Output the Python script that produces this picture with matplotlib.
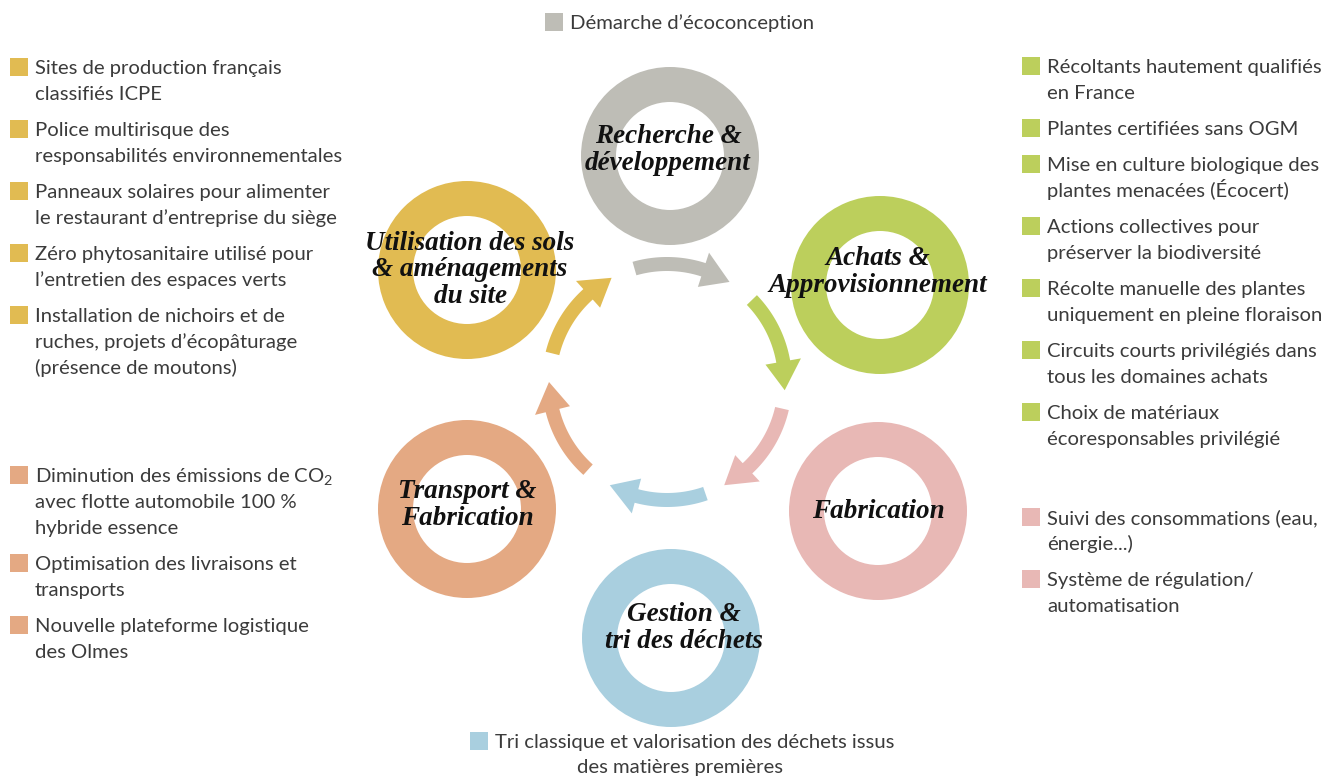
import numpy as np
import matplotlib
matplotlib.use("Agg")
import matplotlib.pyplot as plt
from matplotlib.patches import Wedge, Polygon, Rectangle

plt.rcParams['mathtext.fontset'] = 'custom'
plt.rcParams['mathtext.rm'] = 'Lato'
plt.rcParams['mathtext.it'] = 'Lato:italic'

# ---- content ----
stages = ["Recherche &\ndéveloppement", "Achats &\nApprovisionnement", "Fabrication",
          "Gestion &\ntri des déchets", "Transport &\nFabrication",
          "Utilisation des sols\n& aménagements\ndu site"]
stage_colors = ["#bebdb6", "#bccf5c", "#e8b8b5", "#a9cfdf", "#e4a983", "#e1bb52"]

yellow_items = ["Sites de production français\nclassifiés ICPE",
                "Police multirisque des\nresponsabilités environnementales",
                "Panneaux solaires pour alimenter\nle restaurant d’entreprise du siège",
                "Zéro phytosanitaire utilisé pour\nl’entretien des espaces verts",
                "Installation de nichoirs et de\nruches, projets d’écopâturage\n(présence de moutons)"]
orange_items = ["Diminution des émissions de CO$_2$\navec flotte automobile 100 %\nhybride essence",
                "Optimisation des livraisons et\ntransports",
                "Nouvelle plateforme logistique\ndes Olmes"]
green_items = ["Récoltants hautement qualifiés\nen France",
               "Plantes certifiées sans OGM",
               "Mise en culture biologique des\nplantes menacées (Écocert)",
               "Actions collectives pour\npréserver la biodiversité",
               "Récolte manuelle des plantes\nuniquement en pleine floraison",
               "Circuits courts privilégiés dans\ntous les domaines achats",
               "Choix de matériaux\nécoresponsables privilégié"]
pink_items = ["Suivi des consommations (eau,\nénergie...)",
              "Système de régulation/\nautomatisation"]
grey_items = ["Démarche d’écoconception"]
blue_items = ["Tri classique et valorisation des déchets issus"]
blue_item_cont = "des matières premières"

# ---- layout ----
W, H = 1337, 776
fig = plt.figure(figsize=(W / 100, H / 100), dpi=100)
ax = fig.add_axes([0, 0, 1, 1])
ax.set_xlim(0, W)
ax.set_ylim(H, 0)
ax.axis('off')

centers = [(670, 156), (880, 285), (878, 511), (671, 638), (467, 509), (467, 270)]
R_OUT, RING_W = 89, 35
for (cx, cy), col in zip(centers, stage_colors):
    ax.add_patch(Wedge((cx, cy), R_OUT, 0, 360, width=RING_W, facecolor=col,
                       edgecolor='none'))

label_pos = [(668, 150), (878, 272), (878, 512), (684, 628), (467, 505), (470, 270)]
for (lx, ly), lab in zip(label_pos, stages):
    ax.text(lx, ly, lab, ha='center', va='center', fontsize=19.5, fontweight='bold',
            fontstyle='italic', family='Liberation Serif', color='#111111',
            linespacing=1.1)

# circular arrows
ACX, ACY, AR = 667, 382, 118
arrow_mid = [82, 20, -37, -95, -156, 142]
HALF_SPAN = 24
SHAFT = 7
HEAD_W = 18
HEAD_DEG = 13


def pt(a, r):
    t = np.deg2rad(a)
    return (ACX + r * np.cos(t), ACY - r * np.sin(t))


for mid, col in zip(arrow_mid, stage_colors):
    a0, a1 = mid + HALF_SPAN, mid - HALF_SPAN
    ah = a1 + HEAD_DEG
    angs = np.linspace(a0, ah, 30)
    outer = [pt(a, AR + SHAFT) for a in angs]
    inner = [pt(a, AR - SHAFT) for a in angs[::-1]]
    ax.add_patch(Polygon(outer + inner, closed=True, facecolor=col, edgecolor='none'))
    head = [pt(ah + 1, AR + HEAD_W), pt(a1, AR), pt(ah + 1, AR - HEAD_W)]
    ax.add_patch(Polygon(head, closed=True, facecolor=col, edgecolor='none'))

TXT = '#3b3b3b'
FS = 14.6
LINE = 26
GAP = 10
BASE = 6


def legend_block(items, color, xsq, y0):
    y = y0
    for it in items:
        lines = it.split('\n')
        ax.add_patch(Rectangle((xsq, y - 10), 18, 18, facecolor=color, edgecolor='none'))
        for k, ln in enumerate(lines):
            ax.text(xsq + 25, y + k * LINE + BASE, ln, ha='left', va='baseline',
                    fontsize=FS, family='Lato', color=TXT)
        y += len(lines) * LINE + GAP


legend_block(yellow_items, stage_colors[5], 10, 68)
legend_block(orange_items, stage_colors[4], 10, 476)
legend_block(green_items, stage_colors[1], 1022, 67)
legend_block(pink_items, stage_colors[2], 1022, 518)
legend_block(grey_items, stage_colors[0], 545, 23)
legend_block(blue_items, stage_colors[3], 470, 742)
ax.text(680, 767 + BASE, blue_item_cont, ha='center', va='baseline', fontsize=FS,
        family='Lato', color=TXT)

fig.savefig('out.png', dpi=100)
